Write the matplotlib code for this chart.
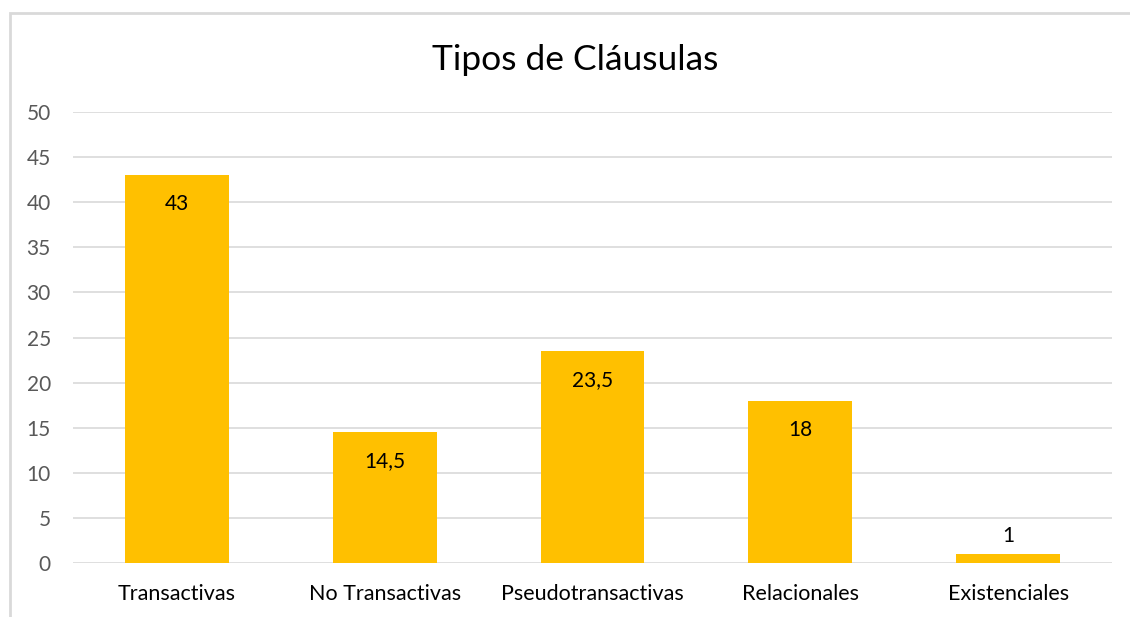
import matplotlib.pyplot as plt
from matplotlib.patches import Rectangle

# Data
categories = ['Transactivas', 'No Transactivas', 'Pseudotransactivas', 'Relacionales', 'Existenciales']
values = [43, 14.5, 23.5, 18, 1]
labels = ['43', '14,5', '23,5', '18', '1']

plt.rcParams['font.family'] = ['Lato', 'DejaVu Sans']

fig = plt.figure(figsize=(11.3, 6.17), dpi=100)
ax = fig.add_axes([73/1130, 1-563/617, (1112-73)/1130, (563-112)/617])

x = range(len(categories))
ax.bar(x, values, width=0.5, color='#FFC000', zorder=3)

# data labels: inside end, small bar gets label above
for i, (v, lab) in enumerate(zip(values, labels)):
    if v < 3:
        ax.annotate(lab, (i, v), xytext=(0, 18), textcoords='offset pixels',
                    ha='center', va='center', fontsize=15, color='#000000')
    else:
        ax.annotate(lab, (i, v), xytext=(0, -29), textcoords='offset pixels',
                    ha='center', va='center', fontsize=15, color='#000000')

ax.set_xlim(-0.5, len(categories) - 0.5)
ax.set_ylim(0, 50)
ax.set_yticks(range(0, 51, 5))
ax.set_xticks(list(x))
ax.set_xticklabels(categories, fontsize=15.5, color='#000000')
ax.tick_params(axis='y', labelsize=15, labelcolor='#595959', length=0, pad=16)
ax.tick_params(axis='x', length=0, pad=15)
ax.grid(axis='y', color='#D9D9D9', lw=1.2, zorder=0)
for s in ax.spines.values():
    s.set_visible(False)

fig.text(575/1130, 1-60/617, 'Tipos de Cláusulas', ha='center', va='center',
         fontsize=25.5, color='#000000')

# chart border
fig.patches.append(Rectangle((10/1130, -0.1), 1.2, 1-13/617+0.1, transform=fig.transFigure,
                             fill=False, edgecolor='#D9D9D9', lw=2))

fig.savefig('out.png', dpi=100)
